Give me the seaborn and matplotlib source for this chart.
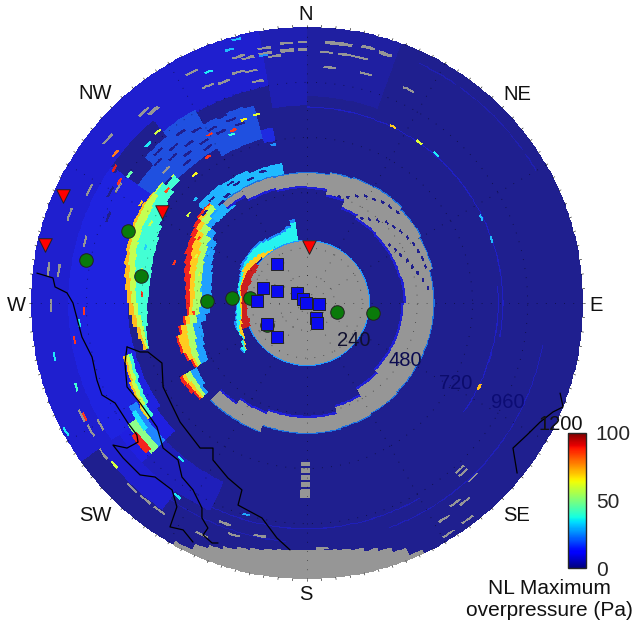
import numpy as np
import matplotlib
matplotlib.use("Agg")
import matplotlib.pyplot as plt
from matplotlib.cm import ScalarMappable
from matplotlib.colors import ListedColormap, Normalize
import seaborn as sns

sns.set_style("white")
plt.rcParams["font.family"] = ["Liberation Sans", "DejaVu Sans"]

nan = float("nan")
# sectors are (az start, az end, range start, range end, overpressure), nan = no data (gray)
backdrop = [
    (0, 360, 0, 1200, 2),
    (235, 305, 780, 1040, 13),
    (235, 320, 1040, 1200, 9),
    (320, 350, 960, 1200, 9),
    (350, 360, 860, 1200, 6),
    (0, 20, 900, 1200, 4),
    (305, 312, 780, 900, 18),
    (312, 320, 780, 950, 18),
    (320, 330, 780, 975, 18),
    (330, 345, 740, 900, 18),
    (345, 349, 720, 780, 14),
    (226, 235, 800, 1000, 12),
    (205, 226, 860, 1000, 7),
    (215, 235, 1000, 1100, 9),
]
gray_disk = [(0, 360, 0, 270, nan)]
rim = [(0, 360, 270, 275, 26)]

annulus_az1 = [0, 10, 20, 30, 45, 60, 75, 90, 135, 150, 165, 200, 215, 320, 330, 345]
annulus_az2 = [10, 20, 30, 45, 60, 75, 90, 135, 150, 165, 200, 215, 225, 330, 345, 360]
annulus_in = [505, 480, 445, 430, 426, 426, 430, 420, 435, 470, 500, 513, 540, 544, 520, 510]
annulus_out = [565, 572, 578, 583, 575, 562, 550, 548, 552, 557, 565, 592, 592, 570, 570, 565]

rim_az1 = [155, 158, 161, 164, 167, 170, 173, 176, 184, 187, 190, 193, 196, 199, 202, 205]
rim_az2 = [158, 161, 164, 167, 170, 173, 176, 184, 187, 190, 193, 196, 199, 202, 205, 209]
rim_start = [1185, 1150, 1125, 1108, 1095, 1085, 1078, 1075, 1078, 1085, 1095, 1105, 1118, 1135, 1155, 1185]

# crescents: range at which each colour band stops, per 4 degree azimuth row
inner_az = [348, 344, 340, 336, 332, 328, 324, 320, 316, 312, 308, 304, 300, 296, 292, 288, 284, 280, 276, 272, 268, 264, 260, 256, 252, 248, 244, 240, 236, 232]
inner_red = [272, 272, 272, 272, 272, 272, 275, 275, 275, 278, 280, 285, 290, 295, 295, 295, 295, 295, 290, 285, 285, 285, 285, 290, 295, 305, 305, 310, 320, 330]
inner_yellow = [272, 272, 274, 275, 275, 275, 280, 285, 295, 300, 305, 310, 315, 312, 305, 298, 297, 296, 292, 290, 288, 288, 290, 295, 305, 315, 318, 315, 325, 335]
inner_cyan = [355, 335, 325, 320, 320, 320, 325, 330, 330, 330, 328, 325, 325, 320, 315, 310, 306, 303, 302, 302, 302, 304, 310, 315, 320, 323, 322, 318, 332, 350]
inner_edge = [370, 345, 335, 330, 330, 330, 335, 340, 340, 340, 335, 332, 332, 328, 320, 314, 310, 307, 305, 305, 305, 308, 314, 320, 326, 328, 325, 320, 335, 352]

mid_az = [312, 308, 304, 300, 296, 292, 288, 284, 280, 276, 272, 268, 264, 260, 256, 252, 248, 244, 240, 236, 232, 228]
mid_red = [610, 610, 600, 590, 580, 575, 565, 555, 545, 535, 530, 525, 525, 545, 570, 590, 590, 580, 565, 645, 640, 630]
mid_orange = [605, 600, 585, 570, 560, 550, 540, 530, 520, 515, 510, 510, 515, 532, 560, 578, 578, 570, 555, 630, 625, 620]
mid_yellow = [595, 585, 565, 540, 525, 515, 510, 505, 500, 495, 490, 495, 500, 515, 535, 540, 545, 550, 545, 615, 610, 610]
mid_cyan = [570, 555, 530, 505, 495, 490, 480, 475, 470, 465, 460, 460, 470, 485, 505, 505, 515, 525, 530, 590, 590, 595]
mid_inner = [560, 530, 500, 470, 460, 450, 440, 430, 425, 420, 415, 415, 425, 445, 470, 470, 480, 490, 495, 560, 565, 580]
mid_top = [(336, 350, 570, 620, 30), (324, 336, 545, 635, 30), (312, 324, 525, 640, 29)]

outer_az = [310, 306, 302, 298, 294, 290, 286, 282, 278, 274, 270, 266, 262, 258, 254, 250, 246, 242, 238, 234]
outer_red = [810, 825, 830, 835, 835, 830, 825, 815, 805, 795, 785, 775, 765, 750, 740, 835, 840, 850, 855, 865]
outer_yellow = [808, 822, 825, 825, 825, 820, 810, 800, 785, 775, 765, 755, 745, 735, 730, 825, 830, 840, 845, 855]
outer_green = [805, 815, 800, 790, 790, 785, 780, 770, 760, 750, 745, 735, 725, 720, 720, 810, 815, 825, 830, 845]
outer_inner = [770, 755, 745, 730, 715, 705, 700, 695, 690, 690, 690, 695, 700, 710, 715, 795, 800, 810, 815, 830]
sw_patch = [(226, 240, 860, 900, 24), (226, 236, 900, 945, 50), (227, 233, 930, 960, 90), (232, 238, 880, 905, 34)]

arcs = [(0, 100, 850, 855, 8), (100, 160, 1040, 1045, 7), (150, 215, 980, 985, 7), (25, 60, 1150, 1155, 6), (85, 125, 830, 835, 8), (185, 215, 1040, 1045, 6)]

gray_az = [276, 289, 296, 308, 276, 268, 214, 218, 222, 203, 232, 238, 242, 238, 199, 196, 190, 175, 136, 136, 135, 142, 140, 142, 147, 146,
           354, 358, 358, 354, 349, 349, 351, 345, 343, 342, 345, 346, 338, 334, 332, 318, 320, 4, 7, 12, 16, 3, 7, 9, 11, 4, 13, 24, 284, 300, 312]
gray_r = [1130, 1100, 1065, 1120, 1085, 1110, 1105, 1105, 1105, 1105, 1100, 1090, 1095, 1040, 1020, 1055, 1030, 1065, 980, 1000, 1045, 1080, 1100, 1170, 1175, 1110,
          1127, 1127, 1096, 1096, 1118, 1096, 1079, 1092, 1109, 1044, 1035, 983, 1022, 1035, 1118, 1088, 1066, 1131, 1131, 1140, 1131, 1088, 1088, 1088, 1088, 1022, 1022, 1022, 1000, 960, 840]

dark_az = [320, 326, 332, 338, 316, 322, 330, 336, 312, 318, 326, 334, 342, 314, 322, 330, 340, 310, 318, 326, 310, 316, 322, 328, 334, 340, 318, 326, 292, 298, 304]
dark_r = [830, 830, 830, 830, 860, 860, 860, 860, 890, 890, 890, 890, 890, 920, 920, 920, 920, 800, 800, 800, 590, 610, 580, 600, 590, 600, 570, 615, 940, 980, 1010]

speck_az = [340, 344, 329, 336, 325, 318, 318, 307, 304, 302, 305, 300, 314, 336, 344, 342, 349, 308, 335, 347, 267, 260, 257, 264, 242, 241, 229, 213, 218, 195, 249, 115, 25, 34, 63, 40, 70,
            296, 288, 280, 272, 300, 292, 284, 276, 264, 296, 286, 306, 312]
speck_r = [840, 845, 845, 815, 765, 740, 985, 1055, 1020, 970, 950, 840, 975, 1090, 1185, 1150, 1090, 780, 800, 700, 965, 1020, 1120, 990, 1085, 1185, 1090, 1010, 870, 955, 1065, 830, 850, 850, 840, 855, 845,
           760, 740, 730, 715, 545, 520, 480, 460, 490, 480, 600, 640, 660]
speck_val = [65, 62, 88, 88, 88, 65, 60, 80, 92, 88, 45, 70, 35, 35, 30, 30, 25, 85, 38, 25, 88, 88, 35, 35, 88, 35, 60, 35, 35, 28, 40, 72, 70, 62, 30, 35, 30,
             58, 32, 58, 88, 88, 62, 62, 30, 88, 30, 88, 60, 30]

ring_gap_az = [16, 20, 24, 28, 32, 36, 40, 44, 32, 36, 40, 44, 48, 52, 56, 60, 64, 68, 72, 54, 58, 62, 66, 70, 74, 78, 82]
ring_gap_r = [480, 490, 510, 525, 535, 545, 550, 555, 435, 450, 470, 490, 500, 510, 520, 525, 530, 535, 535, 435, 445, 455, 470, 480, 495, 510, 525]

# stations, km east and north of the array centre
green_east = [-961, -779, -722, -435, -326, -248, -174, 130, 287]
green_north = [187, 313, 117, 9, 22, 22, -96, -39, -44]
red_east = [-1061, -1140, -631, 9]
red_north = [465, 252, 396, 244]
blue_east = [-130, -191, -130, -217, -43, -17, -4, 52, 39, 43, -174, -130]
blue_north = [170, 65, 52, 9, 43, 17, 0, -4, -65, -87, -91, -148]

coast_a_east = [-1175, -1105, -1096, -1044, -1018, -979, -935, -914, -892, -835, -779, -740, -735, -783, -844, -800, -726, -661, -587, -566, -596, -539, -496]
coast_a_north = [130, 109, 70, 44, 0, -148, -235, -335, -400, -435, -522, -574, -605, -631, -618, -674, -748, -757, -813, -887, -974, -987, -1040]
coast_b_east = [-783, -792, -783, -726, -653, -626, -561, -544, -496, -457, -457, -431, -452, -413, -387]
coast_b_north = [-191, -261, -365, -435, -539, -631, -683, -757, -813, -892, -935, -979, -1009, -1044, -1044]
coast_c_east = [-783, -726, -692, -631, -626, -605, -552, -465, -409, -409, -344, -283, -300, -196, -131, -74]
coast_c_north = [-191, -213, -213, -261, -365, -409, -518, -631, -631, -683, -761, -813, -879, -935, -1022, -1074]
coast_d_east = [1101, 1114, 1070, 1014, 957, 896, 914]
coast_d_north = [-392, -452, -474, -518, -574, -631, -740]

range_labels = ["240", "480", "720", "960", "1200"]
range_label_east = [204, 426, 648, 874, 1105]
range_label_north = [-165, -252, -352, -435, -530]
compass = ["N", "NE", "E", "SE", "S", "SW", "W", "NW"]
compass_east = [-4, 913, 1257, 913, -4, -922, -1266, -922]
compass_north = [1257, 909, -13, -926, -1270, -926, -13, 913]

az_edges = np.arange(0, 361, 1.0)
r_edges = np.arange(0, 1201, 5.0)
grid = np.zeros((len(r_edges) - 1, len(az_edges) - 1))


def paint(sectors):
    for a1, a2, r1, r2, v in sectors:
        ri = np.where((r_edges[:-1] >= r1 - 1) & (r_edges[:-1] < r2))[0]
        ai = np.where((az_edges[:-1] >= a1) & (az_edges[:-1] < a2))[0]
        grid[np.ix_(ri, ai)] = v


def paint_bands(az, bands, values, step=4):
    # bands run from the far edge to the near edge of the crescent
    for i, a in enumerate(az):
        for j, v in enumerate(values):
            paint([(a, a + step, bands[j + 1][i], bands[j][i], v)])


def dashes(az, r, val, wide=2, thick=10):
    paint([(a, a + wide, x, x + thick, v) for a, x, v in zip(az, r, val)])


paint(backdrop)
paint_bands(outer_az, [outer_red, outer_yellow, outer_green, outer_inner], [72, 58, 40])
paint(sw_patch)
paint(mid_top)
paint_bands(mid_az, [mid_red, mid_orange, mid_yellow, mid_cyan, mid_inner], [90, 70, 55, 27])
paint(arcs)
for a1, a2, r1, r2 in zip(annulus_az1, annulus_az2, annulus_in, annulus_out):
    paint([(a1, a2, r1 - 10, r1, 10), (a1, a2, r2, r2 + 5, 22), (a1, a2, r1, r2, nan)])
paint([(a1, a2, r, 1200, nan) for a1, a2, r in zip(rim_az1, rim_az2, rim_start)])
paint(gray_disk)
paint(rim)
paint_bands(inner_az, [inner_edge, inner_cyan, inner_yellow], [24, 36])
paint_bands(inner_az, [inner_yellow, inner_red], [70])
paint([(a, a + 4, 258 + (a % 3) * 4, r, 94) for a, r in zip(inner_az, inner_red) if 248 <= a <= 304])
dashes(gray_az, gray_r, [nan] * len(gray_az), wide=3, thick=10)
dashes(dark_az, dark_r, [2] * len(dark_az), wide=3, thick=10)
dashes(ring_gap_az, ring_gap_r, [2] * len(ring_gap_az), wide=2, thick=10)
dashes(speck_az, speck_r, speck_val, wide=2, thick=10)
paint([(179, 182, r, r + 20, nan) for r in [690, 720, 750, 780, 810, 830]])

fig = plt.figure(figsize=(6.35, 6.22), dpi=100)
ax = fig.add_axes([0, 0, 1, 1])
k = 4.35
ax.set_xlim(-307 * k, 328 * k)
ax.set_ylim(-319 * k, 303 * k)
ax.set_axis_off()

rr, aa = np.meshgrid(r_edges, np.deg2rad(az_edges), indexing="ij")
# the field is drawn slightly washed out, the colour bar keeps the plain jet
jet = plt.get_cmap("jet")
tones = 0.88 * jet(np.arange(256))[:, :3] + 0.12
tones[:60, 2] *= 0.88
washed = ListedColormap(tones)
washed.set_bad("#969696")
norm = Normalize(0, 100)
ax.pcolormesh(rr * np.sin(aa), rr * np.cos(aa), np.ma.masked_invalid(grid), cmap=washed, norm=norm, zorder=1)

# dotted range rings and spokes
t = np.deg2rad(np.arange(0, 361))
for r in [120, 240, 480, 720, 960]:
    ax.plot(r * np.sin(t), r * np.cos(t), color="k", lw=0.6, ls=(0, (1, 10)), zorder=2, alpha=0.6)
for a in np.deg2rad(np.arange(0, 360, 30)):
    ax.plot([0, 1200 * np.sin(a)], [0, 1200 * np.cos(a)], color="k", lw=0.6, ls=(0, (1, 10)), zorder=2, alpha=0.6)
for a in np.deg2rad(np.arange(0, 360, 3)):
    ax.plot([1200 * np.sin(a), 1210 * np.sin(a)], [1200 * np.cos(a), 1210 * np.cos(a)], color="k", lw=0.4, zorder=2)

for ce, cn in [(coast_a_east, coast_a_north), (coast_b_east, coast_b_north), (coast_c_east, coast_c_north), (coast_d_east, coast_d_north)]:
    sns.lineplot(x=ce, y=cn, ax=ax, color="k", lw=0.9, sort=False, estimator=None, zorder=3, legend=False)

sns.scatterplot(x=green_east, y=green_north, ax=ax, marker="o", s=95, color="#0a7a0a", edgecolor="#222222", linewidth=0.7, zorder=4, legend=False)
sns.scatterplot(x=red_east, y=red_north, ax=ax, marker="v", s=95, color="#ff0000", edgecolor="#222222", linewidth=0.7, zorder=4, legend=False)
sns.scatterplot(x=blue_east, y=blue_north, ax=ax, marker="s", s=85, color="#0a0af0", edgecolor="#222222", linewidth=0.7, zorder=5, legend=False)

label_colors = ["#101030", "#0b0b50", "#0c0c6c", "#0c0c74", "#111111"]
for s, x, y, c in zip(range_labels, range_label_east, range_label_north, label_colors):
    ax.text(x, y, s, color=c, fontsize=14.5, ha="center", va="center", zorder=6)
for s, x, y in zip(compass, compass_east, compass_north):
    ax.text(x, y, s, color="#111111", fontsize=14.5, ha="center", va="center", zorder=6)

cax = fig.add_axes([568 / 635, 1 - 568 / 622, 18 / 635, 135 / 622])
cb = fig.colorbar(ScalarMappable(norm=norm, cmap=jet), cax=cax, ticks=[0, 50, 100])
cb.outline.set_linewidth(1.0)
cb.ax.tick_params(labelsize=15, length=0, pad=7)
fig.text(549 / 635, 1 - 588 / 622, "NL Maximum", fontsize=15, ha="center", va="center", color="#111111")
fig.text(549 / 635, 1 - 611 / 622, "overpressure (Pa)", fontsize=15, ha="center", va="center", color="#111111")

fig.savefig("out.png", dpi=100)
plt.close()
